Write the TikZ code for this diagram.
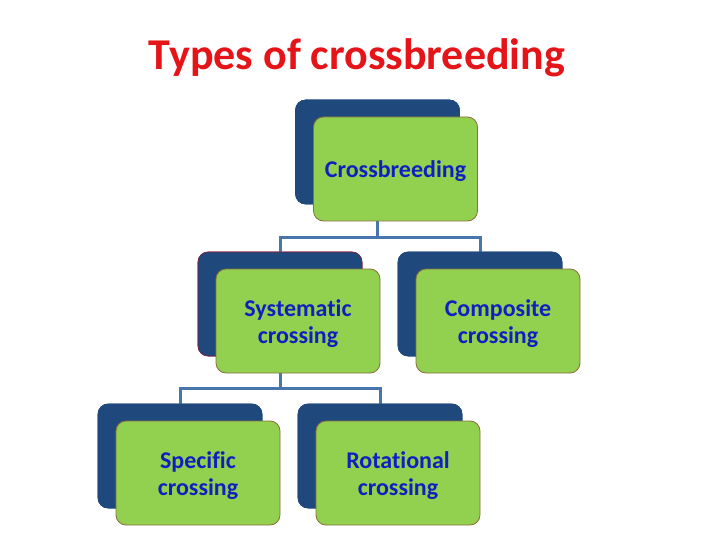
\documentclass[tikz,border=0pt]{standalone}
\usepackage{fontspec}
\setmainfont[Ligatures=NoCommon]{Carlito}
\definecolor{darkbox}{RGB}{31,73,125}
\definecolor{greenbox}{RGB}{146,208,80}
\definecolor{greenedge}{RGB}{140,110,60}
\definecolor{txtblue}{RGB}{16,32,192}
\definecolor{titlered}{RGB}{228,20,24}
\definecolor{linkblue}{RGB}{72,118,172}
\definecolor{rededge}{RGB}{130,30,60}
\begin{document}
\begin{tikzpicture}[x=1pt,y=-1pt,
  backbox/.style={draw=darkbox,fill=darkbox,rounded corners=10pt,minimum width=164pt,minimum height=104pt,inner sep=0pt,line width=0.6pt},
  frontbox/.style={draw=greenedge,fill=greenbox,rounded corners=10pt,minimum width=164pt,minimum height=104pt,inner sep=0pt,line width=0.8pt,
    font=\fontsize{24}{27}\selectfont\bfseries,text=txtblue,align=center},
  boxtext/.style={font=\fontsize{24}{27}\selectfont\bfseries,text=txtblue,align=center,inner sep=0pt},
  link/.style={draw=linkblue,line width=3pt}]
\useasboundingbox (0,0) rectangle (720,540);
\fill[white] (0,0) rectangle (720,540);
\node[font=\fontsize{44}{50}\selectfont\bfseries,text=titlered] (title) at (357,58) {Types of crossbreeding};
% junction coordinates
\coordinate (j1) at (377,237);
\coordinate (j2) at (280,388);
% back boxes positions
\path (377.5,152) node[backbox] (dT) {};
\path (280,304) node[backbox,draw=rededge] (dS) {};
\path (480,304) node[backbox] (dC) {};
\path (180,456) node[backbox] (dSp) {};
\path (380,456) node[backbox] (dR) {};
% connectors
\draw[link] (dT.south) -- (dT.south |- j1) -| (dS.north);
\draw[link] (dT.south |- j1) -| (dC.north);
\draw[link] (dS.south) -- (dS.south |- j2) -| (dSp.north);
\draw[link] (dS.south |- j2) -| (dR.north);
% redraw back boxes over connector ends
\path (377.5,152) node[backbox] {};
\path (280,304) node[backbox,draw=rededge] {};
\path (480,304) node[backbox] {};
\path (180,456) node[backbox] {};
\path (380,456) node[backbox] {};
% front boxes
\node[frontbox] (gT) at (395.5,169) {};
\node[frontbox] (gS) at (298,321) {};
\node[frontbox] (gC) at (498,321) {};
\node[frontbox] (gSp) at (198,473) {};
\node[frontbox] (gR) at (398,473) {};
\node[boxtext] (tT) at ([yshift=-2.5pt]gT.center) {Crossbreeding};
\node[boxtext] (tS) at ([yshift=-2.5pt]gS.center) {Systematic\\crossing};
\node[boxtext] (tC) at ([yshift=-2.5pt]gC.center) {Composite\\crossing};
\node[boxtext] (tSp) at ([yshift=-2.5pt]gSp.center) {Specific\\crossing};
\node[boxtext] (tR) at ([yshift=-2.5pt]gR.center) {Rotational\\crossing};
\end{tikzpicture}
\end{document}
